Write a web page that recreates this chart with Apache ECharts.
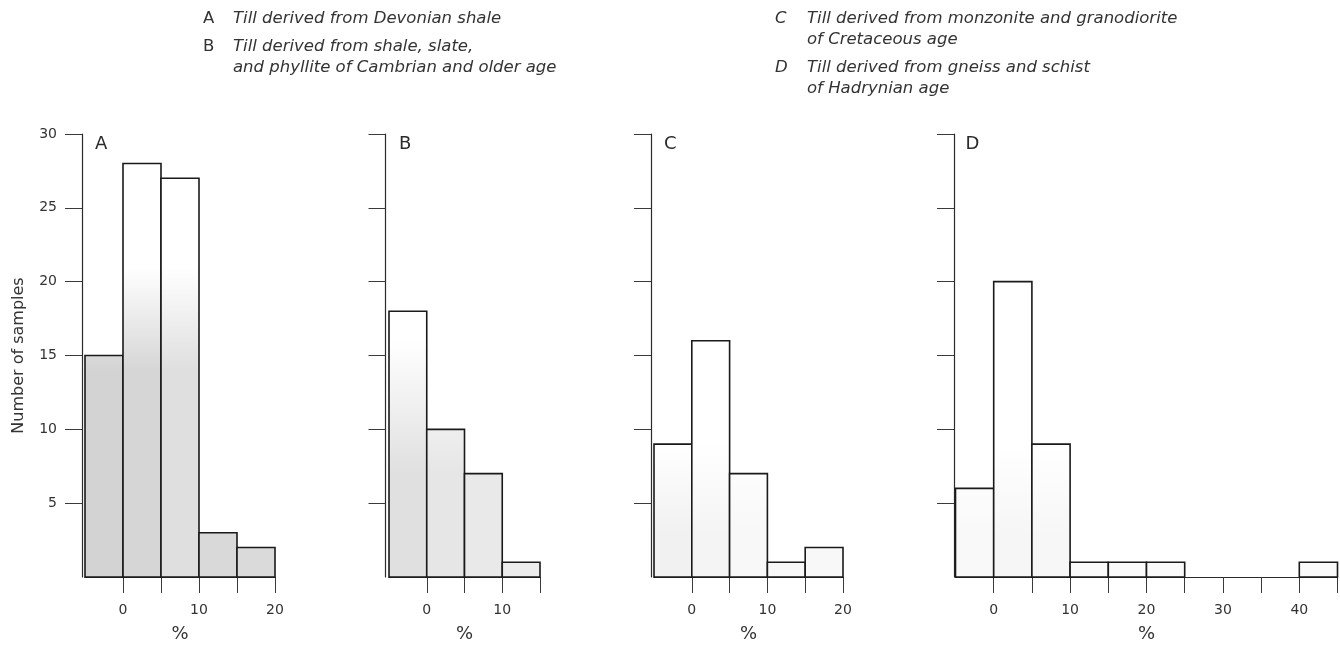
<!DOCTYPE html>
<html>
<head>
<meta charset="utf-8">
<script src="https://cdn.jsdelivr.net/npm/echarts@6/dist/echarts.min.js"></script>
<style>
  html, body { margin: 0; padding: 0; background: #ffffff; }
  #chart { width: 1340px; height: 648px; }
</style>
</head>
<body>
<div id="chart"></div>
<script>
// Histogram bins: each bar spans [start, start + binWidth) percent
const binWidth = 5;

const binStartsA = [-5, 0, 5, 10, 15];
const countsA = [15, 28, 27, 3, 2];

const binStartsB = [-5, 0, 5, 10];
const countsB = [18, 10, 7, 1];

const binStartsC = [-5, 0, 5, 10, 15];
const countsC = [9, 16, 7, 1, 2];

const binStartsD = [-5, 0, 5, 10, 15, 20, 25, 30, 35, 40];
const countsD = [6, 20, 9, 1, 1, 1, 0, 0, 0, 1];

// Axis ticks and labels
const yTickValues = [5, 10, 15, 20, 25, 30];
const xTicksA = [0, 5, 10, 15, 20];
const xLabelsA = [0, 10, 20];
const xTicksB = [0, 5, 10, 15];
const xLabelsB = [0, 10];
const xTicksC = [0, 5, 10, 15, 20];
const xLabelsC = [0, 10, 20];
const xTicksD = [0, 5, 10, 15, 20, 25, 30, 35, 40, 45];
const xLabelsD = [0, 10, 20, 30, 40];
const xMaxValues = [20, 15, 20, 45];

const panelLetters = ['A', 'B', 'C', 'D'];
const yAxisName = 'Number of samples';
const xAxisName = '%';

// Caption lines: [key letter, text]; a null key marks a continuation line
const captionLeft = [
  ['A', 'Till derived from Devonian shale'],
  ['B', 'Till derived from shale, slate,'],
  [null, 'and phyllite of Cambrian and older age']
];
const captionRight = [
  ['C', 'Till derived from monzonite and granodiorite'],
  [null, 'of Cretaceous age'],
  ['D', 'Till derived from gneiss and schist'],
  [null, 'of Hadrynian age']
];

// ---- layout and styling ----
const FONT = 'DejaVu Sans';
const INK = '#2b2b2b';
const gridTop = 134;
const gridHeight = 452;
const panels = [
  { left: 85, width: 190, yOffset: 3 },
  { left: 389, width: 151, yOffset: 3.5 },
  { left: 654, width: 189, yOffset: 3 },
  { left: 955.5, width: 382, yOffset: 1.5 }
];
// light grey print shading inside the bars, fading to white toward the top
const shading = [
  { fadeFrom: 21, fadeTo: 14, tones: ['#d3d3d3', '#d6d6d6', '#dfdfdf', '#d9d9d9', '#dadada'] },
  { fadeFrom: 16, fadeTo: 7, tones: ['#e0e0e0', '#e6e6e6', '#e9e9e9', '#ececec'] },
  { fadeFrom: 9, fadeTo: 3, tones: ['#f1f1f1', '#f4f4f4', '#f8f8f8', '#f8f8f8', '#f8f8f8'] },
  { fadeFrom: 9, fadeTo: 3, tones: ['#f9f9f9', '#f6f6f6', '#f7f7f7', '#fafafa', '#fafafa', '#fafafa', '#fff', '#fff', '#fff', '#fafafa'] }
];

const binStarts = [binStartsA, binStartsB, binStartsC, binStartsD];
const counts = [countsA, countsB, countsC, countsD];
const xTicks = [xTicksA, xTicksB, xTicksC, xTicksD];
const xLabels = [xLabelsA, xLabelsB, xLabelsC, xLabelsD];

function histogramRenderer(shade) {
  return function (params, api) {
    const x0 = api.value(0);
    const x1 = api.value(1);
    const n = api.value(2);
    if (!(n > 0)) return { type: 'group', children: [] };
    const base = api.coord([x0, 0]);
    const top = api.coord([x1, n]);
    const gTop = api.coord([x0, shade.fadeFrom])[1];
    const gBot = api.coord([x0, shade.fadeTo])[1];
    const tone = shade.tones[params.dataIndex] || '#ffffff';
    return {
      type: 'rect',
      shape: { x: base[0], y: top[1], width: top[0] - base[0], height: base[1] - top[1] },
      style: {
        fill: new echarts.graphic.LinearGradient(0, gTop, 0, gBot, [
          { offset: 0, color: '#ffffff' },
          { offset: 1, color: tone }
        ], true),
        stroke: '#1a1a1a',
        lineWidth: 1.6
      }
    };
  };
}

const grid = panels.map(p => ({ left: p.left, width: p.width, top: gridTop, height: gridHeight }));

const xAxis = panels.map((p, i) => ({
  gridIndex: i,
  type: 'value',
  min: -5,
  max: xMaxValues[i],
  axisLine: { show: true, onZero: false, lineStyle: { color: INK, width: 1.2 } },
  axisTick: { show: true, length: 16, customValues: xTicks[i], lineStyle: { color: '#3a3a3a', width: 1 } },
  axisLabel: { customValues: xLabels[i], margin: 26, color: '#333', fontFamily: FONT, fontSize: 14 },
  splitLine: { show: false },
  name: xAxisName,
  nameLocation: 'middle',
  nameGap: 48,
  nameTextStyle: { color: '#333', fontFamily: FONT, fontSize: 18 }
}));

const yAxis = panels.map((p, i) => ({
  gridIndex: i,
  type: 'value',
  min: 0,
  max: 30,
  offset: p.yOffset,
  axisLine: { show: true, onZero: false, lineStyle: { color: INK, width: 1.2 } },
  axisTick: { show: true, length: 17, customValues: yTickValues, lineStyle: { color: '#3a3a3a', width: 1 } },
  axisLabel: { show: i === 0, customValues: yTickValues, margin: 25, color: '#333', fontFamily: FONT, fontSize: 14 },
  splitLine: { show: false },
  name: i === 0 ? yAxisName : '',
  nameLocation: 'middle',
  nameGap: 55,
  nameTextStyle: { color: '#333', fontFamily: FONT, fontSize: 16 }
}));

const series = panels.map((p, i) => ({
  type: 'custom',
  xAxisIndex: i,
  yAxisIndex: i,
  renderItem: histogramRenderer(shading[i]),
  encode: { x: [0, 1], y: 2 },
  data: binStarts[i].map((s, k) => [s, s + binWidth, counts[i][k]]),
  silent: true
}));

// captions above the panels and the panel letters
const graphic = [];
function addCaption(lines, keyX, textX, ys, keyItalic) {
  lines.forEach((line, k) => {
    if (line[0]) {
      graphic.push({
        type: 'text', x: keyX, y: ys[k],
        style: { text: line[0], fill: '#333', fontFamily: FONT, fontSize: 16.5,
                 fontStyle: keyItalic ? 'italic' : 'normal', verticalAlign: 'middle' }
      });
    }
    graphic.push({
      type: 'text', x: textX, y: ys[k],
      style: { text: line[1], fill: '#333', fontFamily: FONT, fontSize: 16.5,
               fontStyle: 'italic', verticalAlign: 'middle' }
    });
  });
}
addCaption(captionLeft, 203, 233, [19, 47, 68], false);
addCaption(captionRight, 775, 807, [19, 40, 68, 89], true);

panels.forEach((p, i) => {
  graphic.push({
    type: 'text', x: p.left + 10, y: 144,
    style: { text: panelLetters[i], fill: INK, fontFamily: FONT, fontSize: 18, verticalAlign: 'middle' }
  });
});

const chart = echarts.init(document.getElementById('chart'), null, { renderer: 'canvas' });
chart.setOption({
  backgroundColor: '#ffffff',
  animation: false,
  grid,
  xAxis,
  yAxis,
  series,
  graphic
});
</script>
</body>
</html>
